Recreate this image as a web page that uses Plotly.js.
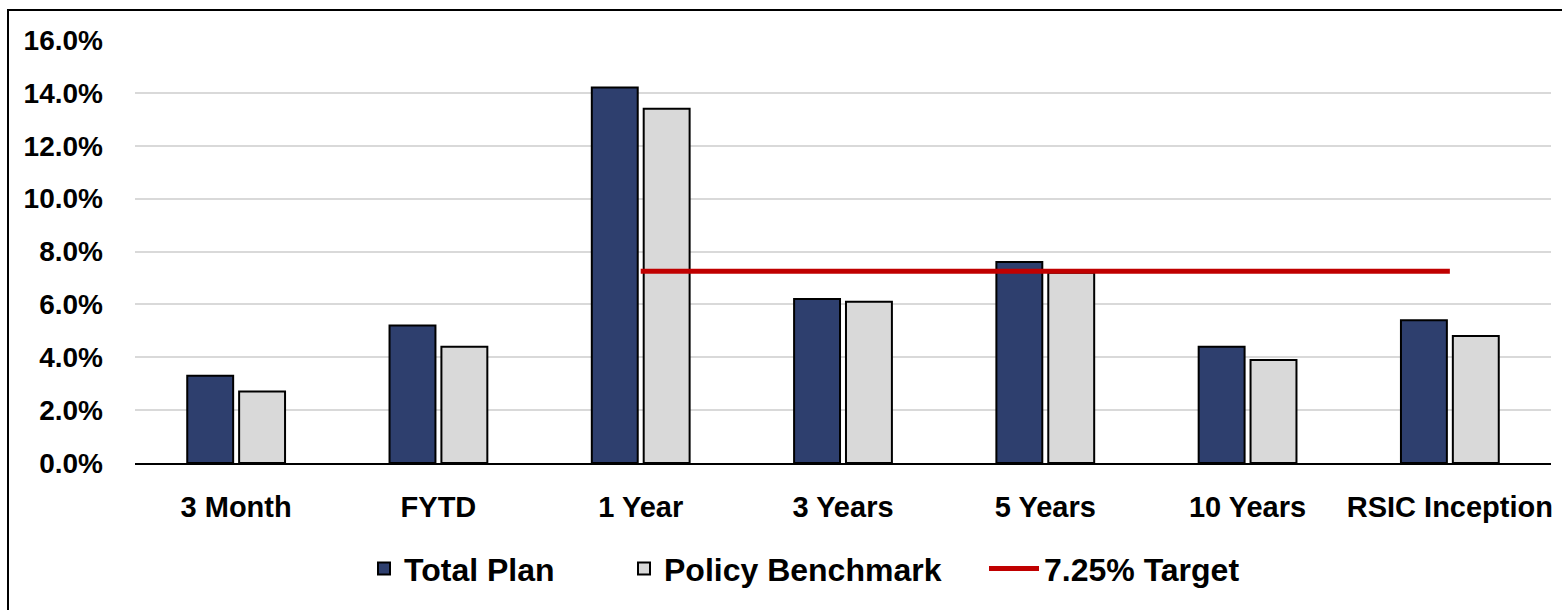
<!DOCTYPE html>
<html>
<head>
<meta charset="utf-8">
<script src="https://cdn.plot.ly/plotly-3.0.1.min.js"></script>
<style>
  html, body { margin: 0; padding: 0; background: #fff; overflow: hidden; }
  #wrap { position: relative; width: 1562px; height: 610px; }
  #chart { position: absolute; left: 0; top: 0; width: 1562px; height: 610px; }
  #frame { position: absolute; left: 7px; top: 9px; width: 3000px; height: 3000px;
           border-left: 2px solid #000; border-top: 2px solid #000; pointer-events: none; }
</style>
</head>
<body>
<div id="wrap"><div id="chart"></div><div id="frame"></div></div>
<script>
const categories = ['3 Month', 'FYTD', '1 Year', '3 Years', '5 Years', '10 Years', 'RSIC Inception'];
const totalPlan = [3.3, 5.2, 14.2, 6.2, 7.6, 4.4, 5.4];
const policyBenchmark = [2.7, 4.4, 13.4, 6.1, 7.2, 3.9, 4.8];
const targetCategories = ['1 Year', '3 Years', '5 Years', '10 Years', 'RSIC Inception'];
const targetValues = [7.25, 7.25, 7.25, 7.25, 7.25];
const yTicks = [0, 2, 4, 6, 8, 10, 12, 14, 16];

const FONT = 'Liberation Sans, Arial, sans-serif';
const PLOT_L = 135, PLOT_W = 1562 - 135 - 11;
const px2paper = p => (p - PLOT_L) / PLOT_W;

const traces = [
  {
    type: 'bar', name: 'Total Plan', x: categories, y: totalPlan, legend: 'legend',
    marker: { color: '#2E3F6E', line: { color: '#000', width: 2 } },
    hoverinfo: 'skip'
  },
  {
    type: 'bar', name: 'Policy Benchmark', x: categories, y: policyBenchmark, legend: 'legend2',
    marker: { color: '#D9D9D9', line: { color: '#000', width: 2 } },
    hoverinfo: 'skip'
  },
  {
    type: 'scatter', mode: 'lines', name: '7.25% Target', x: targetCategories, y: targetValues,
    legend: 'legend3',
    line: { color: '#C00000', width: 5 },
    hoverinfo: 'skip'
  }
];

const legendBase = (leftPx, iw) => ({
  orientation: 'h', x: px2paper(leftPx), xanchor: 'left', y: -0.25, yanchor: 'middle',
  font: { family: FONT, size: 32, color: '#000', weight: 'bold' },
  itemwidth: iw, bgcolor: 'rgba(0,0,0,0)'
});

const layout = {
  width: 1562, height: 610,
  margin: { l: 135, r: 11, t: 40, b: 147 },
  paper_bgcolor: '#fff', plot_bgcolor: '#fff',
  barmode: 'group', bargap: 0.487, bargroupgap: 0.115,
  showlegend: true,
  legend: legendBase(364, 30),
  legend2: legendBase(624, 30),
  legend3: legendBase(984, 50),
  xaxis: {
    type: 'category', categoryorder: 'array', categoryarray: categories,
    showgrid: false, showline: true, linecolor: '#000', linewidth: 2,
    ticks: '', ticklabelstandoff: 17,
    tickfont: { family: FONT, size: 29, color: '#000', weight: 'bold' },
    fixedrange: true
  },
  yaxis: {
    range: [0, 16], tickvals: yTicks, ticktext: yTicks.map(v => v.toFixed(1) + '%'),
    showgrid: true, gridcolor: '#D9D9D9', gridwidth: 2,
    zeroline: false, showline: false, ticks: '', ticklabelstandoff: 31,
    tickfont: { family: FONT, size: 28, color: '#000', weight: 'bold' },
    fixedrange: true
  }
};

Plotly.newPlot('chart', traces, layout, { staticPlot: true, displayModeBar: false });
</script>
</body>
</html>
